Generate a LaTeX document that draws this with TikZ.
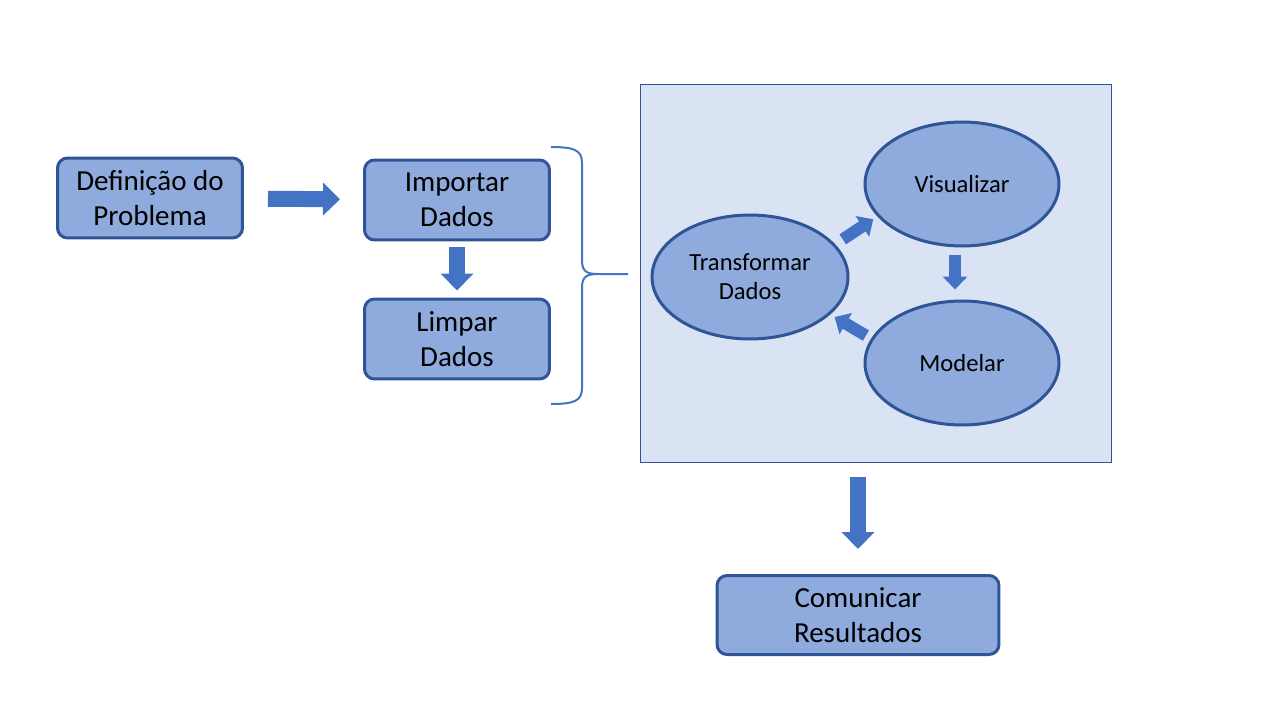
\documentclass[tikz,border=0pt]{standalone}
\usepackage{fontspec}
\setmainfont{Carlito}
\usepackage{tikz}
\usetikzlibrary{shapes.geometric, arrows.meta}
\definecolor{boxfill}{HTML}{8FAADC}
\definecolor{boxline}{HTML}{2F5597}
\definecolor{arrowblue}{HTML}{4472C4}
\definecolor{panelfill}{HTML}{DAE3F3}

\begin{document}
\begin{tikzpicture}[x=0.02cm, y=-0.02cm,
      stepbox/.style={draw=boxline, fill=boxfill, line width=0.06cm,
        rounded corners=0.2cm, align=center, inner sep=0pt,
        minimum width=3.7cm, minimum height=1.6cm,
        font=\fontsize{16.5}{19.8}\selectfont},
      loopnode/.style={ellipse, draw=boxline, fill=boxfill, line width=0.06cm,
        align=center, inner sep=0pt, minimum width=3.88cm, minimum height=2.48cm,
        font=\fontsize{14}{16.4}\selectfont},
      panel/.style={draw=boxline, fill=panelfill, line width=0.02cm,
        minimum width=9.44cm, minimum height=7.58cm},
      blockarrow/.style={draw=arrowblue, line width=0.32cm,
        -{Triangle[width=0.64cm, length=0.34cm]}},
      smallarrow/.style={draw=arrowblue, line width=0.24cm,
        -{Triangle[width=0.48cm, length=0.26cm]}},
      bracket/.style={draw=arrowblue, line width=0.04cm}]
      \useasboundingbox (0,0) rectangle (1280,720);

      % left column
      \node[stepbox] (def) at (150,198) {Definição do\\Problema};
      \node[stepbox] (imp) at (457,200) {Importar\\Dados};
      \node[stepbox] (limp) at (457,339) {Limpar\\Dados};
      \draw[blockarrow, shorten <=0.48cm, shorten >=0.46cm] (def) -- (imp);
      \draw[blockarrow, shorten <=0.12cm, shorten >=0.14cm] (imp) -- (limp);

      % brace
      \coordinate (bt) at (551,147);
      \coordinate (bb) at (551,404);
      \coordinate (btip) at (628,274);
      \draw[bracket] (bt) .. controls (574,147) and (582,150) .. (582,163) -- (582,260)
            .. controls (582,271) and (586,274) .. (598,274) -- (btip)
            (bb) .. controls (574,404) and (582,401) .. (582,388) -- (582,288)
            .. controls (582,277) and (586,274) .. (598,274);

      % panel with the loop
      \node[panel] (panel) at (876,273.5) {};
      \node[loopnode, minimum width=3.92cm] (trans) at (750,277) {Transformar\\Dados};
      \node[loopnode] (vis) at (962,184) {Visualizar};
      \node[loopnode] (mod) at (962,363) {Modelar};
      \draw[smallarrow, shorten <=0.18cm, shorten >=0.1cm] (trans.21) -- (vis.201);
      \draw[smallarrow, shorten <=0.16cm, shorten >=0.2cm] ([xshift=-0.14cm]vis.south) -- ([xshift=-0.14cm]mod.north);
      \draw[smallarrow, shorten <=0.12cm, shorten >=0.1cm] (mod.165) -- (trans.-25);

      % result
      \node[stepbox, minimum width=5.64cm, minimum height=1.58cm] (com) at (858,615) {Comunicar\\Resultados};
      \draw[blockarrow, shorten <=0.28cm, shorten >=0.5cm] (panel.south -| com.north) -- (com.north);
\end{tikzpicture}
\end{document}
